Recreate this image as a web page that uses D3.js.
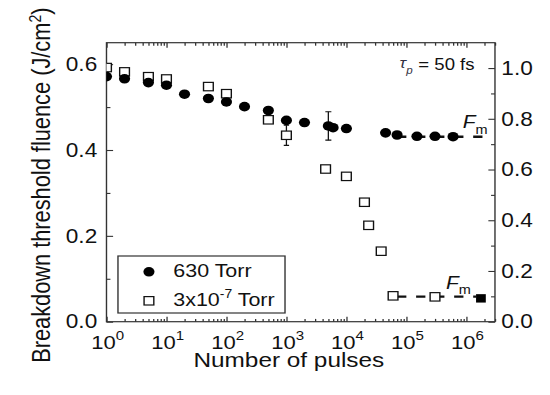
<!DOCTYPE html>
<html>
<head>
<meta charset="utf-8">
<script src="https://cdn.jsdelivr.net/npm/d3@7"></script>
<style>
  html, body { margin: 0; padding: 0; background: #fff; }
  svg { display: block; }
  text { font-family: "Liberation Sans", Arial, sans-serif; fill: #111; }
</style>
</head>
<body>
<div id="chart"></div>
<script>
// number of pulses vs breakdown threshold fluence
const airPulses = [1, 2, 5, 10, 20, 50, 100, 200, 500, 1000, 2000, 5000, 6000, 1e4, 4.5e4, 7e4, 1.5e5, 3e5, 6e5];
const airFluence = [0.571, 0.566, 0.557, 0.551, 0.530, 0.520, 0.512, 0.501, 0.492, 0.469, 0.464, 0.456, 0.452, 0.450, 0.440, 0.435, 0.432, 0.432, 0.431];
const airErrors = [null, null, null, null, null, null, null, null, null, null, null, 0.033, null, null, null, null, null, null, null];

// vacuum series is read on the right-hand axis
const vacPulses = [1, 2, 5, 10, 50, 100, 500, 1000, 4500, 1e4, 2e4, 2.35e4, 3.8e4, 6e4, 3e5];
const vacFluence = [1.002, 0.985, 0.966, 0.957, 0.927, 0.899, 0.796, 0.735, 0.602, 0.573, 0.471, 0.380, 0.278, 0.102, 0.098];
const vacErrors = [null, null, null, null, null, null, null, 0.04, null, null, null, null, null, null, null];

const lastPulses = [1.75e6];
const lastFluence = [0.092];

// F_m levels: [level, from, to]
const fmAir = [0.431, 7e4, 2e6];
const fmVac = [0.099, 7e4, 1.45e6];

const xMajor = [1, 10, 100, 1e3, 1e4, 1e5, 1e6];
const xExponents = ['0', '1', '2', '3', '4', '5', '6'];
const leftTicks = [0, 0.2, 0.4, 0.6];
const rightTicks = [0, 0.2, 0.4, 0.6, 0.8, 1.0];

const legendLabels = ['630 Torr', '3x10', '-7', ' Torr'];

// the picture is stretched sideways, so draw in a narrower box and stretch it
const stretch = 1.16;
const W = 550 / stretch, H = 395;

const svg = d3.select('#chart').append('svg')
    .attr('width', 550)
    .attr('height', 395)
    .attr('viewBox', `0 0 ${W} ${H}`)
    .attr('preserveAspectRatio', 'none');

const pLeft = 91.8, pRight = 426.7, pTop = 42.7, pBottom = 321.7;

const x = d3.scaleLog().domain([1, 3e6]).range([pLeft, pRight]);
const yL = d3.scaleLinear().domain([0, 0.65]).range([pBottom, pTop]);
const yR = d3.scaleLinear().domain([0, 1.1]).range([pBottom, pTop]);

const minorX = [];
for (let e = 0; e <= 6; e++) {
    for (let m = 2; m <= 9; m++) {
        const v = m * Math.pow(10, e);
        if (v <= 3e6) minorX.push(v);
    }
}

// axes, ticks pointing inwards
const gBottom = svg.append('g').attr('transform', `translate(0,${pBottom})`);
gBottom.call(d3.axisBottom(x).tickValues(minorX).tickSize(-2.8).tickSizeOuter(0).tickFormat(''));
gBottom.append('g').call(d3.axisBottom(x).tickValues(xMajor).tickSize(-5).tickSizeOuter(0).tickPadding(0).tickFormat(''));

const gTop = svg.append('g').attr('transform', `translate(0,${pTop})`);
gTop.call(d3.axisTop(x).tickValues(minorX).tickSize(-3).tickSizeOuter(0).tickFormat(''));
gTop.append('g').call(d3.axisTop(x).tickValues(xMajor).tickSize(-5).tickSizeOuter(0).tickFormat(''));

// x tick labels are drawn separately below with superscripts
gBottom.selectAll('.tick text').remove();
gTop.selectAll('.tick text').remove();

const gLeft = svg.append('g').attr('transform', `translate(${pLeft},0)`);
gLeft.call(d3.axisLeft(yL).tickValues([0.1, 0.3, 0.5]).tickSize(-3.4).tickSizeOuter(0).tickFormat(''));
gLeft.select(':scope > .tick text').remove();
gLeft.selectAll('.tick text').filter(function() { return !this.textContent; }).remove();
gLeft.append('g').call(d3.axisLeft(yL).tickValues(leftTicks).tickSize(-5.7).tickSizeOuter(0)
    .tickPadding(8).tickFormat(d3.format('.1f')));

const gRight = svg.append('g').attr('transform', `translate(${pRight},0)`);
gRight.call(d3.axisRight(yR).tickValues([0.1, 0.3, 0.5, 0.7, 0.9]).tickSize(-3.4).tickSizeOuter(0).tickFormat(''));
gRight.selectAll('.tick text').filter(function() { return !this.textContent; }).remove();
gRight.append('g').call(d3.axisRight(yR).tickValues(rightTicks).tickSize(-5.7).tickSizeOuter(0)
    .tickPadding(5.5).tickFormat(d3.format('.1f')));

svg.selectAll('.domain').remove();
svg.selectAll('.tick line').attr('stroke', '#333').attr('stroke-width', 1.1);
svg.selectAll('.tick text').attr('font-size', 19.5).attr('fill', '#111')
    .attr('font-family', '"Liberation Sans", Arial, sans-serif');

// x labels with superscript exponents
const xLabels = svg.append('g');
xMajor.forEach((v, i) => {
    const t = xLabels.append('text')
        .attr('x', x(v) + 1)
        .attr('y', 349.3)
        .attr('text-anchor', 'middle')
        .attr('font-size', 19);
    t.append('tspan').text('10');
    t.append('tspan').attr('font-size', 13).attr('dy', -9).text(xExponents[i]);
});

svg.append('rect')
    .attr('x', pLeft).attr('y', pTop)
    .attr('width', pRight - pLeft).attr('height', pBottom - pTop)
    .attr('fill', 'none').attr('stroke', '#333').attr('stroke-width', 1.2);

// axis titles
svg.append('text')
    .attr('x', (195 + 382.7) / 2 / stretch)
    .attr('y', 366.7)
    .attr('text-anchor', 'middle')
    .attr('font-size', 21)
    .text('Number of pulses');

const yTitle = svg.append('text')
    .attr('transform', `translate(43.3,${(pTop + pBottom) / 2 + 3}) rotate(-90)`)
    .attr('text-anchor', 'middle')
    .attr('font-size', 21.8);
yTitle.append('tspan').text('Breakdown threshold fluence (J/cm');
yTitle.append('tspan').attr('font-size', 14).attr('dy', -8).text('2');
yTitle.append('tspan').attr('dy', 8).text(')');

// data
svg.append('clipPath').attr('id', 'clip').append('rect')
    .attr('x', pLeft).attr('y', pTop).attr('width', pRight - pLeft).attr('height', pBottom - pTop);
const plot = svg.append('g').attr('clip-path', 'url(#clip)');

const dash = '8,8.4';
plot.append('line')
    .attr('x1', x(fmAir[1])).attr('x2', x(fmAir[2]))
    .attr('y1', yL(fmAir[0])).attr('y2', yL(fmAir[0]))
    .attr('stroke', '#111').attr('stroke-width', 2.4).attr('stroke-dasharray', dash);
plot.append('line')
    .attr('x1', x(fmVac[1])).attr('x2', x(fmVac[2]))
    .attr('y1', yR(fmVac[0])).attr('y2', yR(fmVac[0]))
    .attr('stroke', '#111').attr('stroke-width', 2.4).attr('stroke-dasharray', dash);

const air = airPulses.map((p, i) => ({ p, v: airFluence[i], e: airErrors[i] }));
const vac = vacPulses.map((p, i) => ({ p, v: vacFluence[i], e: vacErrors[i] }));

function errorBars(data, y, cap) {
    const g = plot.append('g').attr('stroke', '#111').attr('stroke-width', 1.1);
    data.filter(d => d.e).forEach(d => {
        g.append('line').attr('x1', x(d.p)).attr('x2', x(d.p))
            .attr('y1', y(d.v - d.e)).attr('y2', y(d.v + d.e));
        [d.v - d.e, d.v + d.e].forEach(v => {
            g.append('line').attr('x1', x(d.p) - cap).attr('x2', x(d.p) + cap)
                .attr('y1', y(v)).attr('y2', y(v));
        });
    });
}

errorBars(vac, yR, 2.3);
const sq = 8.4;
plot.selectAll('rect.vac')
    .data(vac)
    .enter()
    .append('rect')
    .attr('class', 'vac')
    .attr('x', d => x(d.p) - sq / 2)
    .attr('y', d => yR(d.v) - sq / 2)
    .attr('width', sq).attr('height', sq)
    .attr('fill', '#fff').attr('stroke', '#111').attr('stroke-width', 1.2);

errorBars(air, yL, 2.6);
plot.selectAll('circle.air')
    .data(air)
    .enter()
    .append('circle')
    .attr('class', 'air')
    .attr('cx', d => x(d.p))
    .attr('cy', d => yL(d.v))
    .attr('r', 4.8)
    .attr('fill', '#000');

plot.selectAll('rect.last')
    .data(lastPulses)
    .enter()
    .append('rect')
    .attr('class', 'last')
    .attr('x', d => x(d) - sq / 2)
    .attr('y', (d, i) => yR(lastFluence[i]) - sq / 2)
    .attr('width', sq).attr('height', sq)
    .attr('fill', '#000');

// F_m labels
function fmLabel(xPos, yPos, sub) {
    const t = svg.append('text').attr('x', xPos).attr('y', yPos).attr('font-size', 18);
    t.append('tspan').attr('font-style', 'italic').text('F');
    t.append('tspan').attr('font-size', 12.5).attr('dy', sub).text('m');
}
fmLabel(x(1e6) - 3, 128, 6.5);
fmLabel(x(1e6) - 17.5, 289, 5);

// pulse duration note
const tau = svg.append('text').attr('x', 344.5).attr('y', 68).attr('font-size', 15);
tau.append('tspan').attr('font-style', 'italic').attr('fill', '#334').text('τ');
tau.append('tspan').attr('font-style', 'italic').attr('font-size', 10).attr('dy', 6).attr('fill', '#334').text('p');
tau.append('tspan').attr('dy', -4).attr('dx', 5).attr('font-size', 16).text('= 50 fs');

// legend
const legend = svg.append('g');
legend.append('rect')
    .attr('x', 101.7).attr('y', 256)
    .attr('width', 144).attr('height', 57)
    .attr('fill', '#fff').attr('stroke', '#333').attr('stroke-width', 1.2);
legend.append('circle').attr('cx', 128.4).attr('cy', 271.8).attr('r', 4.8).attr('fill', '#000');
legend.append('rect').attr('x', 128.4 - sq / 2).attr('y', 300.8 - sq / 2)
    .attr('width', sq).attr('height', sq)
    .attr('fill', '#fff').attr('stroke', '#111').attr('stroke-width', 1.2);
legend.append('text').attr('x', 149.4).attr('y', 277.5).attr('font-size', 18.5).text(legendLabels[0]);
const l2 = legend.append('text').attr('x', 149.4).attr('y', 306).attr('font-size', 18.5);
l2.append('tspan').text(legendLabels[1]);
l2.append('tspan').attr('font-size', 12).attr('dy', -8).text(legendLabels[2]);
l2.append('tspan').attr('dy', 8).text(legendLabels[3]);
</script>
</body>
</html>
